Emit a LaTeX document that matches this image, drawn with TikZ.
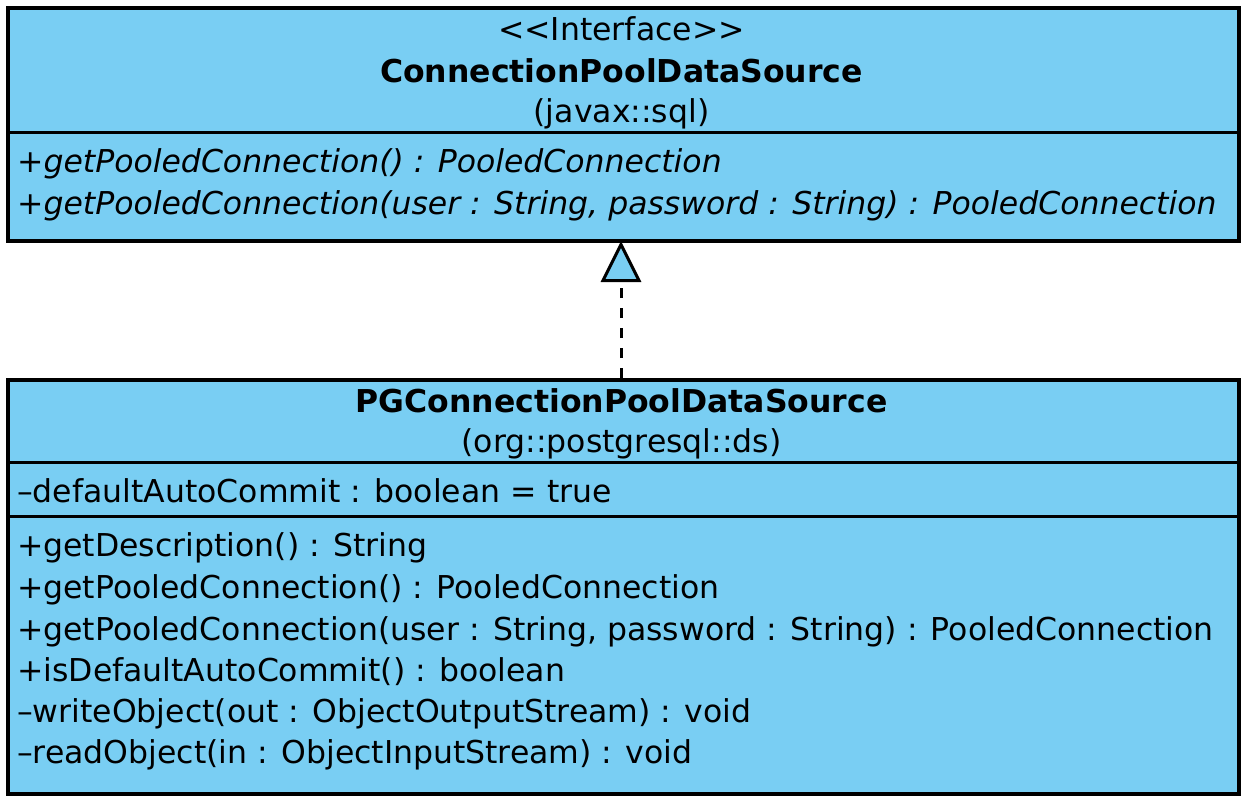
\documentclass[tikz,border=0pt]{standalone}
\usepackage{fontspec}
\setmainfont{DejaVu Sans}
\usetikzlibrary{arrows.meta}
\definecolor{umlblue}{RGB}{121,206,243}
\newcommand{\umlfont}{\fontsize{31.5}{36}\selectfont}
\tikzset{
  umlbox/.style={draw=black, fill=umlblue, line width=3.5pt, rectangle, inner sep=0pt, anchor=north west},
  sepline/.style={line width=3pt},
  txt/.style={inner sep=0pt, font=\umlfont},
  lt/.style={txt, anchor=base west},
  ct/.style={txt, anchor=base},
  realize/.style={line width=3pt, dash pattern=on 10pt off 10pt,
    -{Triangle[open, fill=umlblue, length=41pt, width=40pt, line width=3pt]}}
}
\begin{document}
\begin{tikzpicture}[x=1pt, y=-1pt]
\useasboundingbox (0,0) rectangle (1248,804);
% interface box
\node[umlbox, minimum width=1231pt, minimum height=233pt] (iface) at (6,6) {};
\draw[sepline] (6,132) -- (1237,132);
\node[ct] (st) at (621.5,40) {{<}{<}Interface{>}{>}};
\node[ct, font=\umlfont\bfseries] (iname) at (621.5,82) {ConnectionPoolDataSource};
\node[ct] (ipkg) at (621.5,122) {(javax::sql)};
\node[lt, font=\umlfont\itshape] (im1) at (17,172) {+getPooledConnection() : PooledConnection};
\node[lt, font=\umlfont\itshape] (im2) at (17,214) {+getPooledConnection(user : String, password : String) : PooledConnection};
% implementing class
\node[umlbox, minimum width=1231pt, minimum height=414pt] (impl) at (6,378) {};
\draw[sepline] (6,462) -- (1237,462);
\draw[sepline] (6,516) -- (1237,516);
\node[ct, font=\umlfont\bfseries] (cname) at (621.5,412) {PGConnectionPoolDataSource};
\node[ct] (cpkg) at (621.5,452) {(org::postgresql::ds)};
\node[lt] (a1) at (17,502) {–defaultAutoCommit : boolean = true};
\node[lt] (m1) at (17,556) {+getDescription() : String};
\node[lt] (m2) at (17,598) {+getPooledConnection() : PooledConnection};
\node[lt] (m3) at (17,640) {+getPooledConnection(user : String, password : String) : PooledConnection};
\node[lt] (m4) at (17,681) {+isDefaultAutoCommit() : boolean};
\node[lt] (m5) at (17,722) {–writeObject(out : ObjectOutputStream) : void};
\node[lt] (m6) at (17,763) {–readObject(in : ObjectInputStream) : void};
% realization
\coordinate (from) at (621,378);
\coordinate (to) at (621,241);
\draw[realize] (from) -- (to);
\end{tikzpicture}
\end{document}
